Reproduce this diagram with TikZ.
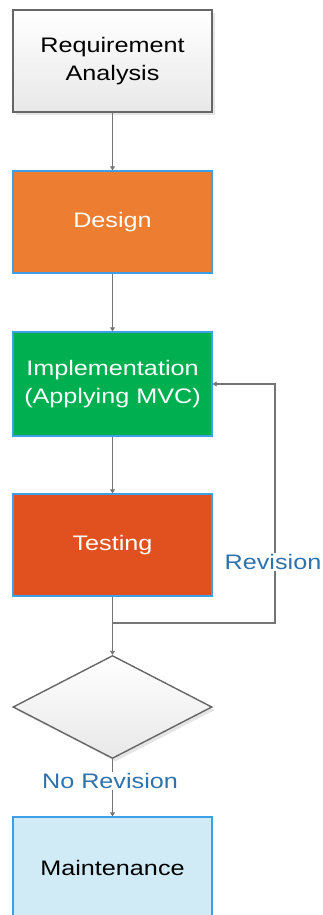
\documentclass[tikz,border=0pt]{standalone}
\usepackage{fontspec}
\setmainfont{Liberation Sans}[FakeStretch=1.2]
\usetikzlibrary{shapes.geometric,shadows,arrows.meta}
\definecolor{bordblue}{HTML}{3F9FE6}
\definecolor{orng}{HTML}{ED7D31}
\definecolor{grn}{HTML}{00B050}
\definecolor{tst}{HTML}{E1501F}
\definecolor{mnt}{HTML}{D0EBF6}
\definecolor{lbl}{HTML}{2E72AE}
\definecolor{ln}{HTML}{757575}
\definecolor{gbord}{HTML}{666666}
\tikzset{
  base/.style={minimum width=199pt, inner sep=2pt, align=center,
    font=\fontsize{21}{28}\selectfont, line width=1.4pt},
  graybox/.style={base, draw=gbord, top color=white, bottom color=black!9,
    drop shadow={shadow xshift=3pt, shadow yshift=-3pt, fill=black!10, opacity=1}},
  colbox/.style={base, draw=bordblue, text=white},
  conn/.style={draw=ln, line width=1.7pt, -{Triangle[length=4pt,width=5pt]}},
  lab/.style={fill=white, text=lbl, inner sep=1pt, font=\fontsize{21}{25}\selectfont}
}
\begin{document}
\begin{tikzpicture}[x=1pt,y=-1pt]
\useasboundingbox (0,0) rectangle (322,915);
\node[graybox, minimum height=102pt] (req) at (112.5,61) {Requirement\\Analysis};
\node[colbox, fill=orng, minimum height=102pt] (des) at (112.5,222) {\raisebox{-2pt}{Design}};
\node[colbox, fill=grn, minimum height=104pt] (imp) at (112.5,384) {Implementation\\(Applying MVC)};
\node[colbox, fill=tst, minimum height=102pt] (tst) at (112.5,545) {\raisebox{-2pt}{Testing}};
\node[diamond, draw=gbord, line width=1.4pt, minimum width=199pt, minimum height=103pt, inner sep=0pt,
  top color=white, bottom color=black!9,
  drop shadow={shadow xshift=3pt, shadow yshift=-3pt, fill=black!10, opacity=1}] (dia) at (112.5,707) {};
\node[colbox, fill=mnt, text=black, minimum height=102pt] (mnt) at (112.5,868) {Maintenance};
\coordinate (j) at (112.5,623);
\coordinate (r) at (275,623);
\coordinate (rt) at (275,384);
\draw[conn] (req) -- (des);
\draw[conn] (des) -- (imp);
\draw[conn] (imp) -- (tst);
\draw[conn] (tst) -- (dia);
\draw[conn] (j) -- (r) -- (rt) -- (imp.east);
\node[lab] (rev) at (273,562) {Revision};
\draw[conn] (dia) -- (mnt);
\node[lab] (norev) at (110,781) {No Revision};
\end{tikzpicture}
\end{document}
